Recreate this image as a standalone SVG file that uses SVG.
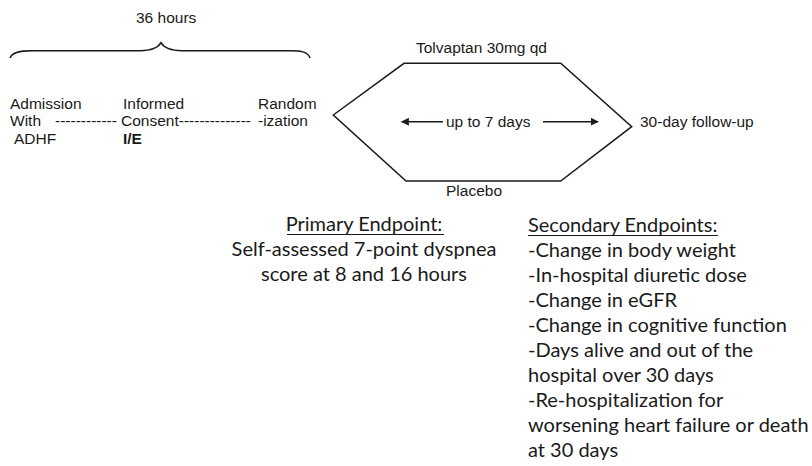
<svg xmlns="http://www.w3.org/2000/svg" width="812" height="466" viewBox="0 0 812 466">
<style>
.a{font-family:"Liberation Sans",Arial,sans-serif;font-size:15.5px;fill:#1a1a1a}
.b{font-weight:bold}
.c{font-family:Lato,"Open Sans",sans-serif;font-size:20px;fill:#1a1a1a}
.ln{fill:none;stroke:#1a1a1a;stroke-width:1.5}
.ul{stroke:#1a1a1a;stroke-width:1.2}
</style>
<defs>
<marker id="ah" viewBox="0 0 10 10" refX="9" refY="5" markerWidth="8" markerHeight="8" markerUnits="userSpaceOnUse" orient="auto-start-reverse">
<path d="M0,0 L10,5 L0,10 z" fill="#1a1a1a"/>
</marker>
</defs>
<rect width="812" height="466" fill="#ffffff"/>
<g id="timeline">
<text class="a" x="136" y="23">36 hours</text>
<path class="ln" d="M10,58 C12,52 20,50.7 32,50.7 L140,50.7 C152,50.7 158,48 161,42.7 C164,48 170,50.7 182,50.7 L290,50.7 C302,50.7 308,52 310,58"/>
<text class="a" x="10" y="109">Admission</text>
<text class="a" x="10" y="126">With</text>
<text class="a" x="55" y="126">------------</text>
<text class="a" x="14" y="144">ADHF</text>
<text class="a" x="123" y="109">Informed</text>
<text class="a" x="121" y="126">Consent--------------</text>
<text class="a b" x="123" y="144">I/E</text>
<text class="a" x="258" y="109">Random</text>
<text class="a" x="258" y="126">-ization</text>
</g>
<g id="hexagon">
<polygon class="ln" points="333.3,115 404,63.3 560.7,63.3 631.7,126.7 560.7,181 406,181"/>
<text class="a" x="416" y="53">Tolvaptan 30mg qd</text>
<text class="a" x="446" y="196">Placebo</text>
</g>
<g id="connectors">
<line class="ln" x1="443" y1="121.7" x2="401.7" y2="121.7" marker-end="url(#ah)"/>
<line class="ln" x1="543" y1="121.7" x2="598" y2="121.7" marker-end="url(#ah)"/>
</g>
<g id="duration">
<text class="a" x="446" y="127">up to 7 days</text>
</g>
<g id="followup">
<text class="a" x="640" y="127">30-day follow-up</text>
</g>
<g id="primary">
<text class="c" x="364" y="231" text-anchor="middle">Primary Endpoint:</text>
<line class="ul" x1="287" y1="234.5" x2="444" y2="234.5"/>
<text class="c" x="364" y="256" text-anchor="middle">Self-assessed 7-point dyspnea</text>
<text class="c" x="364" y="281" text-anchor="middle">score at 8 and 16 hours</text>
</g>
<g id="secondary">
<text class="c" x="528" y="232">Secondary Endpoints:</text>
<line class="ul" x1="528" y1="235.5" x2="718" y2="235.5"/>
<text class="c" x="528" y="257">-Change in body weight</text>
<text class="c" x="528" y="282">-In-hospital diuretic dose</text>
<text class="c" x="528" y="307">-Change in eGFR</text>
<text class="c" x="528" y="332">-Change in cognitive function</text>
<text class="c" x="528" y="357">-Days alive and out of the</text>
<text class="c" x="528" y="382">hospital over 30 days</text>
<text class="c" x="528" y="407">-Re-hospitalization for</text>
<text class="c" x="528" y="432">worsening heart failure or death</text>
<text class="c" x="528" y="457">at 30 days</text>
</g>
</svg>
